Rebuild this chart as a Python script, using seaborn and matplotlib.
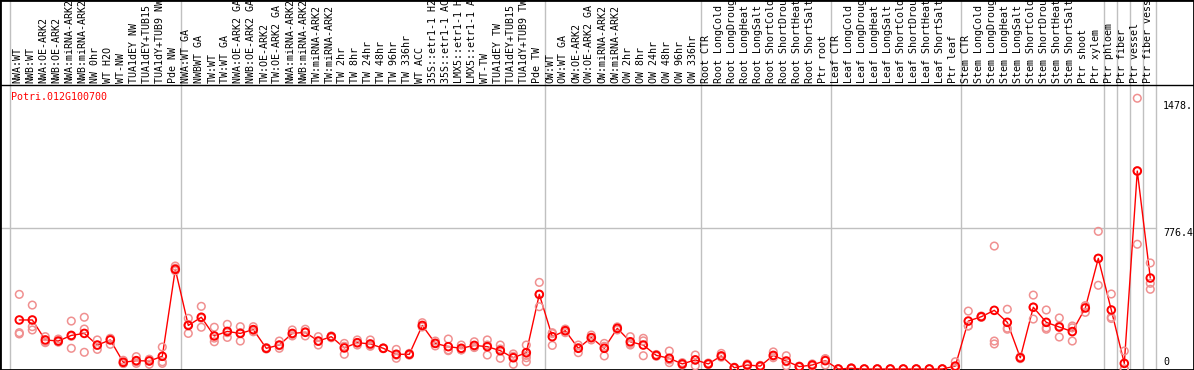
import pandas as pd
import matplotlib
matplotlib.use('Agg')
import matplotlib.pyplot as plt
import seaborn as sns
import numpy as np

sns.set_theme(style='white')
plt.rcParams['font.family'] = ['DejaVu Sans Mono']

gene_id = 'Potri.012G100700'

# echantillons, par groupe
group_nw = ['NWA:WT', 'NWB:WT', 'NWA:OE-ARK2', 'NWB:OE-ARK2', 'NWA:miRNA-ARK2',
            'NWB:miRNA-ARK2', 'NW 0hr', 'WT H2O', 'WT-NW', 'TUA1dEY NW',
            'TUA1dEY+TUB15 NW', 'TUA1dY+TUB9 NW', 'Pde NW']
group_tw = ['NWA:WT GA', 'NWBWT GA', 'TW:WT', 'TW:WT GA', 'NWA:OE-ARK2 GA',
            'NWB:OE-ARK2 GA', 'TW:OE-ARK2', 'TW:OE-ARK2 GA', 'NWA:miRNA-ARK2',
            'NWB:miRNA-ARK2', 'TW:miRNA-ARK2', 'TW:miRNA-ARK2', 'TW 2hr', 'TW 8hr',
            'TW 24hr', 'TW 48hr', 'TW 96hr', 'TW 336hr', 'WT ACC',
            '35S::etr1-1 H2O', '35S::etr1-1 ACC', 'LMX5::etr1-1 H2O',
            'LMX5::etr1-1 ACC', 'WT-TW', 'TUA1dEY TW', 'TUA1dEY+TUB15 TW',
            'TUA1dY+TUB9 TW', 'Pde TW']
group_ow = ['OW:WT', 'OW:WT GA', 'OW:OE-ARK2', 'OW:OE-ARK2 GA', 'OW:miRNA-ARK2',
            'OW:miRNA-ARK2', 'OW 2hr', 'OW 8hr', 'OW 24hr', 'OW 48hr', 'OW 96hr',
            'OW 336hr']
group_root = ['Root CTR', 'Root LongCold', 'Root LongDrought', 'Root LongHeat',
              'Root LongSalt', 'Root ShortCold', 'Root ShortDrought',
              'Root ShortHeat', 'Root ShortSalt', 'Ptr root']
group_leaf = ['Leaf CTR', 'Leaf LongCold', 'Leaf LongDrought', 'Leaf LongHeat',
              'Leaf LongSalt', 'Leaf ShortCold', 'Leaf ShortDrought',
              'Leaf ShortHeat', 'Leaf ShortSalt', 'Ptr leaf']
group_stem = ['Stem CTR', 'Stem LongCold', 'Stem LongDrought', 'Stem LongHeat',
              'Stem LongSalt', 'Stem ShortCold', 'Stem ShortDrought',
              'Stem ShortHeat', 'Stem ShortSalt', 'Ptr shoot', 'Ptr xylem']
group_phloem = ['Ptr phloem']
group_fiber = ['Ptr fiber']
group_vessel = ['Ptr vessel']
group_fv = ['Ptr fiber vessel']

groups = [group_nw, group_tw, group_ow, group_root, group_leaf, group_stem,
          group_phloem, group_fiber, group_vessel, group_fv]
sample_labels = [s for g in groups for s in g]

# moyennes
mean_vals = [270, 270, 160, 154, 185, 196, 132, 160, 37, 46, 44, 70, 549,
             240, 285, 182, 207, 196, 217, 114, 132, 196, 202, 154, 178, 116, 145,
             138, 114, 81, 81, 240, 141, 123, 114, 130, 123, 101, 62, 90, 411,
             178, 211, 114, 173, 114, 224, 150, 132, 75, 59, 28, 50,
             28, 72, 7, 22, 16, 75, 44, 13, 22, 46,
             0, 4, 0, 0, 0, 0, 0, 0, 0, 16,
             264, 288, 323, 257, 62, 340, 257, 231, 206, 336, 609,
             325, 31, 1090, 501]

# replicats
rep_vals = [[411, 200, 193], [352, 233, 215], [178, 150, 145], [165, 150, 148],
            [264, 114, 180], [285, 92, 220], [160, 108, 130], [169, 136, 165],
            [48, 30, 32], [68, 31, 40], [54, 26, 50], [121, 40, 31], [567, 541, 555],
            [279, 196, 245], [345, 230, 280], [230, 150, 170], [246, 174, 200],
            [233, 154, 200], [233, 205, 212], [118, 110, 114], [154, 114, 128],
            [215, 182, 190], [219, 182, 205], [178, 132, 152], [182, 172, 180],
            [141, 81, 125], [160, 132, 143], [160, 125, 130], [116, 112, 114],
            [108, 59, 76], [86, 76, 80], [255, 233, 232], [154, 127, 142],
            [165, 101, 105], [132, 105, 106], [150, 118, 122], [160, 77, 132],
            [132, 59, 110], [83, 26, 70], [132, 62, 40, 75], [477, 343, 410],
            [200, 130, 195], [220, 200, 210], [132, 90, 118], [187, 160, 170],
            [141, 72, 125], [232, 215, 225], [178, 132, 140], [169, 155, 73],
            [80, 70, 75], [99, 35, 50], [35, 22, 28], [77, 18, 50],
            [33, 25, 26], [86, 65, 70], [10, 4, 7], [28, 16, 22], [20, 12, 16],
            [94, 62, 70], [73, 18, 40], [16, 10, 13], [28, 16, 22], [57, 22, 55],
            [0, 0, 0], [6, 2, 4], [0, 0, 0], [0, 0, 0], [0, 0, 0], [0, 0, 0],
            [0, 0, 0], [0, 0, 0], [0, 0, 0], [40, 0, 8],
            [319, 237, 237], [292, 284, 288], [677, 154, 138], [329, 219, 225],
            [67, 57, 62], [407, 275, 340], [325, 219, 227], [281, 176, 236],
            [237, 154, 227], [349, 312, 346], [758, 461, 609],
            [413, 285, 278], [99, 0, 0], [1491, 687, 1092], [584, 439, 472]]

scale_labels = ['1478.', '776.4', '0']
scale_vals = [1478, 776.4, 0]

df_mean = pd.DataFrame({'pos': np.arange(len(sample_labels)), 'val': mean_vals})
df_rep = pd.DataFrame([(i, v) for i, r in enumerate(rep_vals) for v in r],
                      columns=['pos', 'val'])

# geometrie en pixels -> unites de donnees
px_x0, px_step = 19.3, 13.0
px_zero, px_per_unit = 369.0, 0.1816
def vx(px):
    return (px - px_x0) / px_step
def vy(py):
    return (px_zero - py) / px_per_unit

fig = plt.figure(figsize=(11.94, 3.70), dpi=100)
ax = fig.add_axes([0, 0, 1, 1])
ax.set_xlim(vx(0), vx(1194))
ax.set_ylim(vy(370), vy(0))

# separateurs de groupes
seps = [vx(10)]
end = -1
for g in groups:
    end += len(g)
    seps.append(end + 0.4)
for s in seps:
    ax.axvline(s, color='#c0c0c0', lw=1, zorder=1)
ax.plot([vx(0), seps[-1]], [776.4, 776.4], color='#c0c0c0', lw=1, zorder=1)
ax.axhline(vy(85), color='black', lw=1, zorder=2)

sns.lineplot(data=df_mean, x='pos', y='val', color='red', lw=1, ax=ax, zorder=3)
sns.scatterplot(data=df_rep, x='pos', y='val', marker='o', s=30,
                facecolor='none', edgecolor='#f09090', linewidth=1.1,
                ax=ax, zorder=4)
sns.scatterplot(data=df_mean, x='pos', y='val', marker='o', s=30,
                facecolor='none', edgecolor='red', linewidth=1.4,
                ax=ax, zorder=5)

for i, lab in enumerate(sample_labels):
    ax.text(i - 0.14, vy(83), lab, rotation=90, ha='center', va='bottom',
            fontsize=7.2, color='black', clip_on=False)

ax.text(vx(11), vy(97), gene_id, color='red', fontsize=7.2, ha='left', va='center')

for lab, v in zip(scale_labels, scale_vals):
    va = 'bottom' if v == 0 else 'top'
    off = 10 if v == 0 else 0
    ax.text(vx(1163), v + off, lab, fontsize=7.2, ha='left', va=va, color='black')

ax.set_xlabel('')
ax.set_ylabel('')
ax.set_xticks([])
ax.set_yticks([])
for sp in ax.spines.values():
    sp.set_visible(True)
    sp.set_color('black')
    sp.set_linewidth(2)

fig.savefig('out.png', dpi=100)
